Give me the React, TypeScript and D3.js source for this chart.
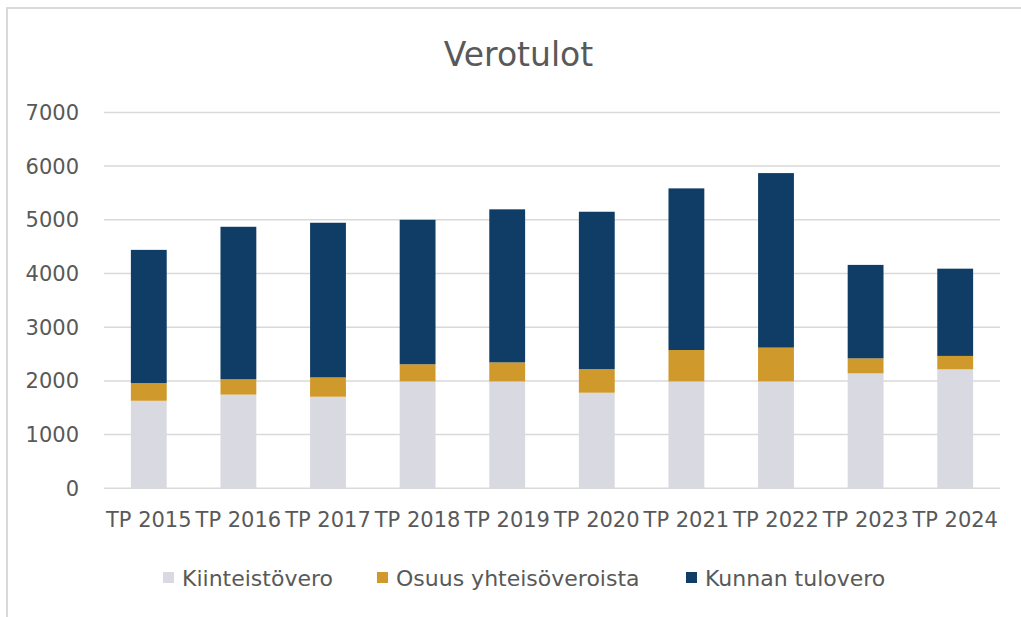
import React from "react";
import * as d3 from "d3";

const categories = ["TP 2015", "TP 2016", "TP 2017", "TP 2018", "TP 2019", "TP 2020", "TP 2021", "TP 2022", "TP 2023", "TP 2024"];
const kiinteistovero = [1630, 1745, 1705, 1990, 1990, 1780, 1990, 1990, 2140, 2215];
const osuusYhteisoveroista = [330, 285, 360, 320, 355, 440, 585, 630, 280, 250];
const kunnanTulovero = [2480, 2840, 2880, 2690, 2850, 2930, 3010, 3250, 1740, 1625];
const seriesNames = ["Kiinteistövero", "Osuus yhteisöveroista", "Kunnan tulovero"];
const seriesColors = ["#d9d9e1", "#d0992b", "#103d66"];
const yTicks = [0, 1000, 2000, 3000, 4000, 5000, 6000, 7000];
const title = "Verotulot";

const W = 1021;
const H = 617;
const FONT = "'DejaVu Sans', sans-serif";
const TEXT = "#595959";

export default function App() {
  const rows = categories.map((c, i) => ({
    cat: c,
    s0: kiinteistovero[i],
    s1: osuusYhteisoveroista[i],
    s2: kunnanTulovero[i],
  }));
  const stack = d3.stack<any>().keys(["s0", "s1", "s2"]);
  const stacked = stack(rows);

  const x = d3.scaleBand<string>().domain(categories).range([104, 1000]).paddingInner(0.6).paddingOuter(0.3);
  const y = d3.scaleLinear().domain([0, 7000]).range([488.3, 112.4]);

  const legendX = [163, 377, 686];

  return (
    <svg width={W} height={H} style={{ position: "absolute", left: 0, top: 0, background: "#fff" }} fontFamily={FONT}>
      <rect x={0} y={0} width={W} height={H} fill="#fff" />
      <rect x={7} y={8} width={1200} height={800} fill="none" stroke="#d9d9d9" strokeWidth={2} />
      <text x={518.5} y={66} textAnchor="middle" fontSize={33} fill={TEXT}>{title}</text>
      {yTicks.map((t) => (
        <g key={t}>
          <line x1={104} x2={1000} y1={y(t)} y2={y(t)} stroke="#d9d9d9" strokeWidth={1.5} />
          <text x={79} y={y(t)} dy="0.36em" textAnchor="end" fontSize={21} fill={TEXT}>{t}</text>
        </g>
      ))}
      {stacked.map((layer, li) => (
        <g key={li} fill={seriesColors[li]}>
          {layer.map((d: any, i: number) => (
            <rect key={i} x={x(categories[i])} width={x.bandwidth()} y={y(d[1])} height={y(d[0]) - y(d[1])} />
          ))}
        </g>
      ))}
      {categories.map((c) => (
        <text key={c} x={(x(c) as number) + x.bandwidth() / 2} y={527} textAnchor="middle" fontSize={21} fill={TEXT}>{c}</text>
      ))}
      {seriesNames.map((n, i) => (
        <g key={n}>
          <rect x={legendX[i]} y={572} width={11} height={11} fill={seriesColors[i]} />
          <text x={legendX[i] + 19} y={585.5} fontSize={22} fill={TEXT}>{n}</text>
        </g>
      ))}
    </svg>
  );
}
